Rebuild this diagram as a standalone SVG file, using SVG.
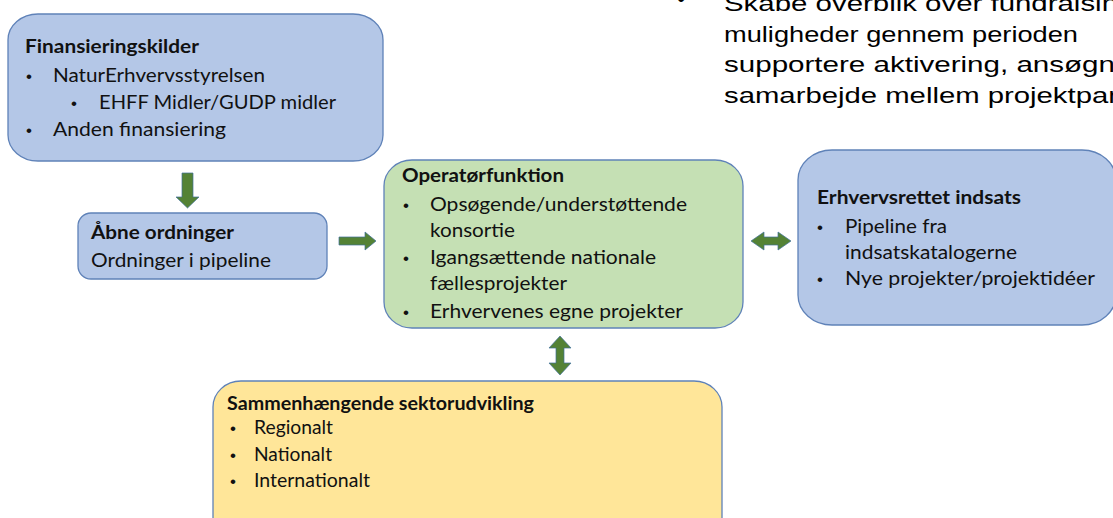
<svg xmlns="http://www.w3.org/2000/svg" width="1113" height="518" viewBox="0 0 1113 518">
<style>
.box{stroke:#5f82b8;stroke-width:1.3}
.blue{fill:#b4c7e7}
.green{fill:#c5e0b4}
.yellow{fill:#ffe699}
.t{font-family:Lato,"Open Sans","Liberation Sans",sans-serif;font-size:18.5px;fill:#111}
.b{font-weight:bold}
.bul{font-family:"Liberation Sans",Arial,sans-serif;font-size:17px;fill:#111;text-anchor:middle}
.arr{fill:#548235;stroke:#41719c;stroke-width:0.7}
.ar{font-family:"Liberation Sans",Arial,sans-serif;font-size:22px;fill:#000}
</style>
<rect width="1113" height="518" fill="#ffffff"/>

<g id="note">
<text class="ar" x="681" y="6" text-anchor="middle">•</text>
<text class="ar" x="724" y="11" textLength="394" lengthAdjust="spacingAndGlyphs">Skabe overblik over fundraisin</text>
<text class="ar" x="724" y="41.5" textLength="354" lengthAdjust="spacingAndGlyphs">muligheder gennem perioden</text>
<text class="ar" x="724" y="72" textLength="391" lengthAdjust="spacingAndGlyphs">supportere aktivering, ansøgn</text>
<text class="ar" x="724" y="102.5" textLength="394" lengthAdjust="spacingAndGlyphs">samarbejde mellem projektpar</text>
</g>

<g id="finansieringskilder">
<rect class="box blue" x="8" y="14" width="375" height="147" rx="30" ry="26"/>
<text class="t b" x="25" y="53" textLength="174" lengthAdjust="spacingAndGlyphs">Finansieringskilder</text>
<text class="bul" x="29" y="82">•</text>
<text class="t" x="53" y="82" textLength="212" lengthAdjust="spacingAndGlyphs">NaturErhvervsstyrelsen</text>
<text class="bul" x="74" y="109">•</text>
<text class="t" x="99" y="109" textLength="237" lengthAdjust="spacingAndGlyphs">EHFF Midler/GUDP midler</text>
<text class="bul" x="29" y="136">•</text>
<text class="t" x="53" y="136" textLength="173" lengthAdjust="spacingAndGlyphs">Anden finansiering</text>
</g>

<g id="aabne-ordninger">
<rect class="box blue" x="78" y="213" width="249" height="66" rx="13"/>
<text class="t b" x="91" y="239" textLength="143" lengthAdjust="spacingAndGlyphs">Åbne ordninger</text>
<text class="t" x="91" y="267" textLength="180" lengthAdjust="spacingAndGlyphs">Ordninger i pipeline</text>
</g>

<g id="operatoerfunktion">
<rect class="box green" x="384" y="160" width="359" height="168" rx="28" ry="26"/>
<text class="t b" x="402" y="182" textLength="162" lengthAdjust="spacingAndGlyphs">Operatørfunktion</text>
<text class="bul" x="406" y="211">•</text>
<text class="t" x="430" y="211" textLength="257" lengthAdjust="spacingAndGlyphs">Opsøgende/understøttende</text>
<text class="t" x="430" y="237" textLength="85" lengthAdjust="spacingAndGlyphs">konsortie</text>
<text class="bul" x="406" y="264">•</text>
<text class="t" x="430" y="264" textLength="226" lengthAdjust="spacingAndGlyphs">Igangsættende nationale</text>
<text class="t" x="430" y="290" textLength="137" lengthAdjust="spacingAndGlyphs">fællesprojekter</text>
<text class="bul" x="406" y="318">•</text>
<text class="t" x="430" y="318" textLength="253" lengthAdjust="spacingAndGlyphs">Erhvervenes egne projekter</text>
</g>

<g id="erhvervsrettet-indsats">
<rect class="box blue" x="798" y="150" width="318" height="175" rx="34" ry="30"/>
<text class="t b" x="817" y="204" textLength="204" lengthAdjust="spacingAndGlyphs">Erhvervsrettet indsats</text>
<text class="bul" x="820" y="233">•</text>
<text class="t" x="845" y="233" textLength="102" lengthAdjust="spacingAndGlyphs">Pipeline fra</text>
<text class="t" x="845" y="259" textLength="172" lengthAdjust="spacingAndGlyphs">indsatskatalogerne</text>
<text class="bul" x="820" y="285">•</text>
<text class="t" x="845" y="285" textLength="250" lengthAdjust="spacingAndGlyphs">Nye projekter/projektidéer</text>
</g>

<g id="sektorudvikling">
<rect class="box yellow" x="213" y="381" width="509" height="170" rx="28" ry="26"/>
<text class="t b" x="227" y="410" textLength="307" lengthAdjust="spacingAndGlyphs">Sammenhængende sektorudvikling</text>
<text class="bul" x="233" y="434">•</text>
<text class="t" x="254" y="434" textLength="79" lengthAdjust="spacingAndGlyphs">Regionalt</text>
<text class="bul" x="233" y="461">•</text>
<text class="t" x="254" y="461" textLength="78" lengthAdjust="spacingAndGlyphs">Nationalt</text>
<text class="bul" x="233" y="487">•</text>
<text class="t" x="254" y="487" textLength="116" lengthAdjust="spacingAndGlyphs">Internationalt</text>
</g>

<g id="connectors">
<polygon class="arr" points="182,173 193,173 193,197 199,197 187.5,208 176,197 182,197"/>
<polygon class="arr" points="339,237 365,237 365,232 376,241 365,250 365,245 339,245"/>
<polygon class="arr" points="751,241 764,232 764,237 778,237 778,232 791,241 778,250 778,245 764,245 764,250"/>
<polygon class="arr" points="560,336 571,348 564,348 564,363 571,363 560,375 549,363 556,363 556,348 549,348"/>
</g>
</svg>
